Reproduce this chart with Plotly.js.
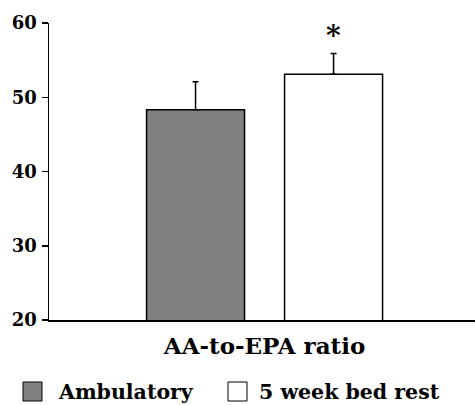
<!DOCTYPE html>
<html>
<head>
<meta charset="utf-8">
<script src="https://cdn.plot.ly/plotly-3.0.1.min.js"></script>
<style>html,body{margin:0;padding:0;background:#fff}#chart{width:475px;height:405px}</style>
</head>
<body>
<div id="chart"></div>
<script>
const categories = ["AA-to-EPA ratio"];
const seriesNames = ["Ambulatory", "5 week bed rest"];
const ambulatory = [48.3];
const ambulatoryErr = [3.8];
const bedRest = [53.1];
const bedRestErr = [2.8];
const significance = ["", "*"];
const yTicks = [20, 30, 40, 50, 60];

const font = "DejaVu Serif";
const colors = ["#808080", "#ffffff"];

const traces = [
  {type: "bar", name: seriesNames[0], x: categories, y: ambulatory,
   marker: {color: colors[0], line: {color: "#000", width: 1.5}},
   error_y: {type: "data", array: ambulatoryErr, arrayminus: [0], symmetric: false, color: "#000", thickness: 1.5, width: 3},
   offsetgroup: "a"},
  {type: "bar", name: seriesNames[1], x: categories, y: bedRest,
   marker: {color: colors[1], line: {color: "#000", width: 1.5}},
   error_y: {type: "data", array: bedRestErr, arrayminus: [0], symmetric: false, color: "#000", thickness: 1.5, width: 3},
   offsetgroup: "b"}
];

const shapes = [];
const annotations = [];
// custom legend
const legendX = [23, 228];
const textX = [56, 257];
seriesNames.forEach((n, i) => {
  shapes.push({type: "rect", xref: "paper", yref: "paper",
    x0: (legendX[i] - 49) / 426, x1: (legendX[i] + 19 - 49) / 426,
    y0: -(401 - 320) / 297, y1: -(382 - 320) / 297,
    fillcolor: colors[i], line: {color: "#000", width: 1}});
  annotations.push({xref: "paper", yref: "paper", x: (textX[i] - 49) / 426,
    y: -(392 - 320) / 297, xanchor: "left", yanchor: "middle", showarrow: false,
    text: "<b>" + n + "</b>", font: {family: font, size: 20.5, color: "#000"}});
});
// significance asterisk
annotations.push({x: categories[0], y: bedRest[0] + bedRestErr[0], xref: "x", yref: "y",
  xshift: 69, yshift: -1, yanchor: "bottom", showarrow: false,
  text: "<b>" + significance[1] + "</b>", font: {family: font, size: 28, color: "#000"}});

const layout = {
  width: 475, height: 405,
  margin: {l: 49, r: 0, t: 23, b: 85},
  paper_bgcolor: "#fff", plot_bgcolor: "#fff",
  showlegend: false,
  barmode: "group", bargap: 0.352, bargroupgap: 0.29,
  xaxis: {type: "category", range: [-0.506, 0.494], showline: true, linecolor: "#000", linewidth: 1.5,
    ticks: "", showgrid: false, zeroline: false,
    tickfont: {family: font, size: 23, color: "#000"}, ticklabelstandoff: 5,
    tickvals: categories, ticktext: categories.map(c => "<b>" + c + "</b>")},
  yaxis: {range: [20, 60], tickvals: yTicks, ticktext: yTicks.map(t => "<b>" + t + "</b>"),
    showline: true, linecolor: "#000", linewidth: 1.5, ticks: "outside", ticklen: 6, tickwidth: 1.5, tickcolor: "#000",
    showgrid: false, zeroline: false, ticklabelstandoff: 1,
    tickfont: {family: font, size: 18, color: "#000"}},
  shapes: shapes, annotations: annotations
};

Plotly.newPlot("chart", traces, layout, {displayModeBar: false, staticPlot: true});
</script>
</body>
</html>
